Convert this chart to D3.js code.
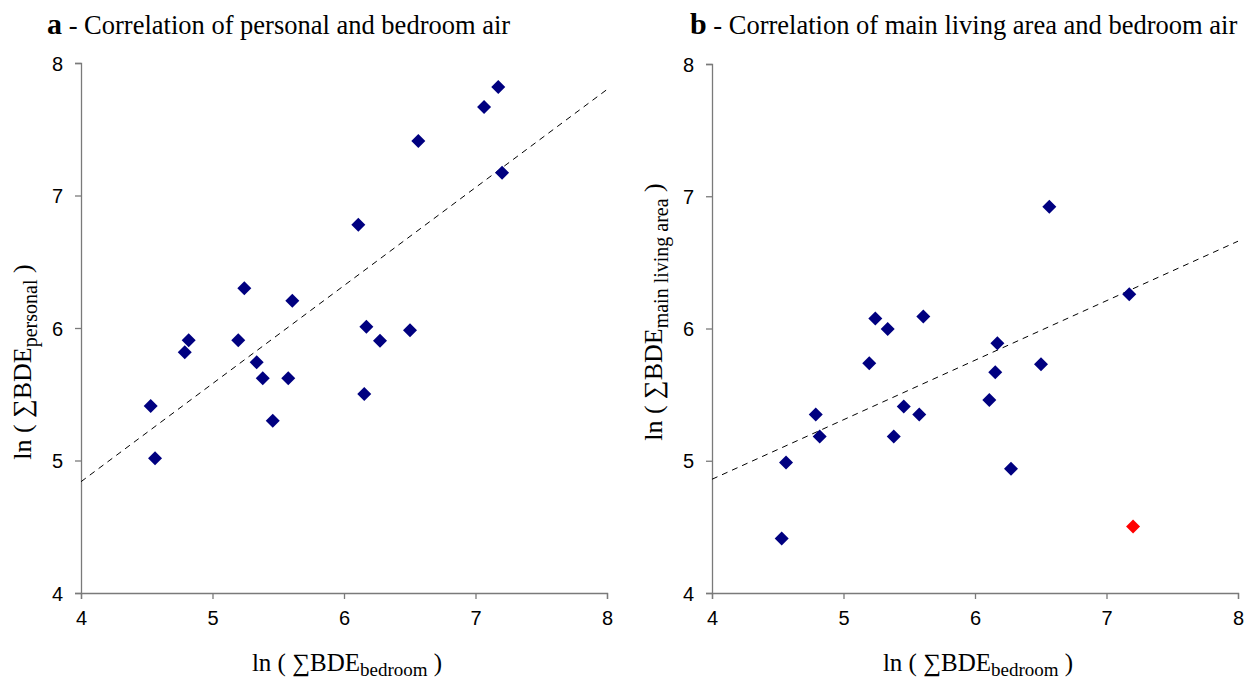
<!DOCTYPE html>
<html><head><meta charset="utf-8">
<script src="https://cdn.jsdelivr.net/npm/d3@7"></script>
<style>body{margin:0;background:#fff}svg{display:block}</style>
</head><body>
<svg id="chart" width="1247" height="683"></svg>
<script>
// ---- data ----
const xTicks = [4, 5, 6, 7, 8];
const yTicks = [4, 5, 6, 7, 8];

// panel a: ln(ΣBDE bedroom) vs ln(ΣBDE personal)
const bedroomA  = [7.173, 7.065, 6.565, 7.202, 6.109, 5.242, 5.607, 4.819, 5.196, 6.170,
                   6.502, 6.274, 4.789, 5.336, 5.382, 5.576, 6.154, 4.530, 5.458, 4.563];
const personal  = [7.819, 7.668, 7.411, 7.172, 6.780, 6.300, 6.206, 5.907, 5.907, 6.010,
                   5.983, 5.904, 5.817, 5.741, 5.620, 5.620, 5.502, 5.411, 5.300, 5.017];
const trendA = [[4, 4.84], [8, 7.80]];

// panel b: ln(ΣBDE bedroom) vs ln(ΣBDE main living area)
const bedroomB  = [6.565, 7.173, 6.170, 6.502, 6.154, 6.109, 6.274,
                   5.242, 5.336, 5.607, 5.196, 4.789, 5.458, 5.576, 4.819, 5.382, 4.563, 4.530, 7.202];
const livingArea = [6.921, 6.259, 5.889, 5.730, 5.669, 5.460, 4.940,
                    6.075, 5.997, 6.090, 5.738, 5.349, 5.410, 5.349, 5.183, 5.183, 4.986, 4.412, 4.503];
const outlierB  = [false, false, false, false, false, false, false,
                   false, false, false, false, false, false, false, false, false, false, false, true];
const trendB = [[4, 4.86], [8, 6.66]];

const panels = [
  {letter: "a", title: " - Correlation of personal and bedroom air", ySub: "personal",
   xs: bedroomA, ys: personal, flags: bedroomA.map(() => false), trend: trendA,
   x0: 81, x1: 607, y0: 593, y1: 63, titleX: 47, yLabX: 31, yLabY: 362},
  {letter: "b", title: " - Correlation of main living area and bedroom air", ySub: "main living area",
   xs: bedroomB, ys: livingArea, flags: outlierB, trend: trendB,
   x0: 712, x1: 1238, y0: 593, y1: 64, titleX: 690, yLabX: 662, yLabY: 312}
];

const svg = d3.select("#chart");
const serif = "'Liberation Serif','Times New Roman',serif";
const sans = "'Liberation Sans',Arial,sans-serif";
const axisColor = "#7a7a7a";

panels.forEach(p => {
  const x = d3.scaleLinear().domain([4, 8]).range([p.x0, p.x1]);
  const y = d3.scaleLinear().domain([4, 8]).range([p.y0, p.y1]);
  const g = svg.append("g");

  // axes
  const xAxis = g.append("g").attr("transform", `translate(0,${p.y0})`)
    .call(d3.axisBottom(x).tickValues(xTicks).tickSize(6).tickPadding(12).tickFormat(d3.format("d")));
  const yAxis = g.append("g").attr("transform", `translate(${p.x0},0)`)
    .call(d3.axisLeft(y).tickValues(yTicks).tickSize(6).tickPadding(12).tickFormat(d3.format("d")));
  [xAxis, yAxis].forEach(a => {
    a.select(".domain").attr("stroke", axisColor).attr("stroke-width", 1.3);
    a.selectAll(".tick line").attr("stroke", axisColor).attr("stroke-width", 1.3);
    a.selectAll(".tick text").attr("fill", "#000").style("font-family", sans).style("font-size", "20px");
  });
  yAxis.selectAll(".tick text").attr("dy", "0.35em");

  // trend line
  g.append("line")
    .attr("x1", x(p.trend[0][0])).attr("y1", y(p.trend[0][1]))
    .attr("x2", x(p.trend[1][0])).attr("y2", y(p.trend[1][1]))
    .attr("stroke", "#000").attr("stroke-width", 1).attr("stroke-dasharray", "6,5");

  // diamonds
  const r = 7;
  g.selectAll("path.pt").data(p.xs.map((v, i) => ({x: v, y: p.ys[i], f: p.flags[i]})))
    .join("path").attr("class", "pt")
    .attr("d", d => {
      const cx = x(d.x), cy = y(d.y);
      return `M${cx},${cy - r}L${cx + r},${cy}L${cx},${cy + r}L${cx - r},${cy}Z`;
    })
    .attr("fill", d => d.f ? "#ff0000" : "#000080");

  // title
  const t = svg.append("text").attr("x", p.titleX).attr("y", 34)
    .style("font-family", serif).style("font-size", "26.5px").attr("fill", "#000");
  t.append("tspan").text(p.letter).style("font-weight", "bold").style("font-size", "30px");
  t.append("tspan").text(p.title);

  // x label
  const xl = svg.append("text").attr("x", (p.x0 + p.x1) / 2 + 3).attr("y", 671)
    .attr("text-anchor", "middle").style("font-family", serif).style("font-size", "25px");
  xl.append("tspan").text("ln ( \u2211BDE");
  xl.append("tspan").text("bedroom").style("font-size", "19px").attr("dy", 5);
  xl.append("tspan").text(" )").attr("dy", -5);

  // y label
  const yl = svg.append("text").attr("transform", `translate(${p.yLabX},${p.yLabY}) rotate(-90)`)
    .attr("text-anchor", "middle").style("font-family", serif).style("font-size", "26px");
  yl.append("tspan").text("ln ( \u2211BDE");
  yl.append("tspan").text(p.ySub).style("font-size", "20px").attr("dy", 6);
  yl.append("tspan").text(" )").attr("dy", -6);
});
</script>
</body></html>
